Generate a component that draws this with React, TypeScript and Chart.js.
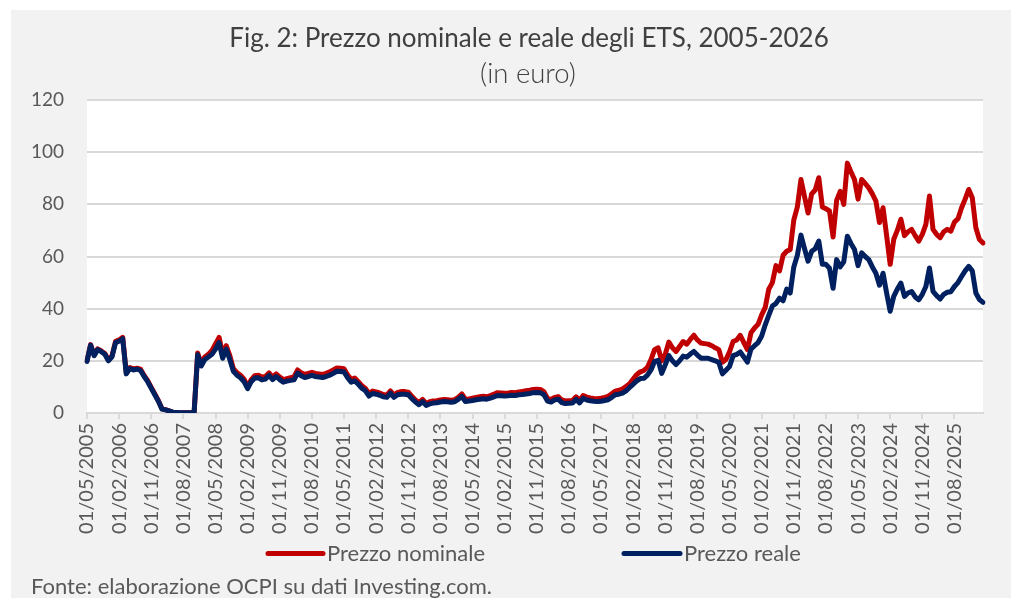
import React, { useEffect, useRef } from "react";
import { Chart, registerables } from "chart.js";

Chart.register(...registerables);

// ---- DATA ----
const START_YEAR = 2005;
const START_MONTH = 5; // May 2005, monthly observations
const N_POINTS = 252;

const TICK_LABELS = [
  "01/05/2005", "01/02/2006", "01/11/2006", "01/08/2007", "01/05/2008", "01/02/2009",
  "01/11/2009", "01/08/2010", "01/05/2011", "01/02/2012", "01/11/2012", "01/08/2013",
  "01/05/2014", "01/02/2015", "01/11/2015", "01/08/2016", "01/05/2017", "01/02/2018",
  "01/11/2018", "01/08/2019", "01/05/2020", "01/02/2021", "01/11/2021", "01/08/2022",
  "01/05/2023", "01/02/2024", "01/11/2024", "01/08/2025",
];

const PREZZO_NOMINALE = [
  20, 26.2, 22.2, 24.6, 23.8, 22.8, 20.3, 21.9, 27.5, 28, 29, 15.3,
  17.4, 16.9, 17.2, 16.8, 14.4, 12.4, 9.8, 7.3, 4.7, 1.6, 1.3, 0.8,
  0.3, 0.2, 0.1, 0.1, 0.05, 0.05, 0.05, 23, 19, 21.5, 22.5, 24,
  26.5, 29, 22.5, 25.8, 22, 17, 15.5, 14.5, 13, 10, 12.8, 14.3,
  14.5, 13.7, 14, 15.4, 13.8, 15, 13.8, 12.8, 13.2, 13.5, 13.8, 16.5,
  15.4, 14.8, 15.2, 15.6, 15.2, 15, 14.8, 15.2, 15.8, 16.5, 17.3, 17.2,
  17, 14.7, 12.9, 13.4, 12, 10.5, 9.4, 7.4, 8.4, 8.1, 7.7, 7.1,
  6.9, 8.5, 6.9, 7.9, 8.2, 8.2, 8, 6.4, 5, 4, 5.2, 3.6,
  4.3, 4.6, 4.7, 5, 5.2, 5.1, 4.9, 5.1, 6, 7.3, 5.2, 5.4,
  5.7, 6, 6.2, 6.4, 6.2, 6.7, 7.2, 7.8, 7.7, 7.6, 7.7, 7.9,
  7.8, 8.1, 8.3, 8.5, 8.7, 9, 9.1, 9, 8.2, 5.6, 5.2, 6,
  6.3, 5, 4.6, 4.7, 4.8, 6.2, 4.9, 6.7, 6.1, 5.8, 5.6, 5.5,
  5.7, 6, 6.4, 7.4, 8.4, 8.7, 9.2, 10.2, 11.2, 13, 14.7, 15.8,
  16.3, 17.5, 20.5, 24.3, 25, 20, 22.5, 27.2, 25, 23.6, 25.5, 27.4,
  26.4, 28.2, 29.8, 28, 26.8, 26.6, 26.4, 25.8, 25, 24.3, 19.5, 20.5,
  23.5, 27.4, 28, 29.8, 27, 24.3, 30.8, 32.6, 34, 37.6, 40.5, 47.5,
  50, 56.5, 54.5, 60.5, 62, 62.7, 74, 79, 89.5, 83, 76.7, 84,
  85.5, 90.2, 79, 78.3, 77.5, 67.5, 81.5, 85, 80, 95.8, 92.5, 89.5,
  82, 89.5, 88, 86.3, 84, 81.2, 73, 78.7, 68, 57, 66.6, 70,
  74.3, 68, 69.5, 70.4, 68, 65.9, 68.5, 72.3, 83.2, 70.4, 68.5, 67.2,
  69.5, 70.4, 69.7, 73.2, 74.5, 78.7, 82, 85.7, 82.5, 71, 66.5, 65.2,
];

const PREZZO_REALE = [
  19.8, 26, 22, 24.3, 23.5, 22.5, 20, 21.5, 27, 27.5, 28.5, 15,
  17, 16.5, 16.8, 16.3, 14, 12, 9.5, 7, 4.5, 1.5, 1.2, 0.8,
  0.3, 0.2, 0.1, 0.1, 0.05, 0.05, 0.05, 22.3, 18, 20.5, 21.5, 22.5,
  24.5, 27, 21, 24.5, 20.5, 16, 14.5, 13.5, 12, 9.3, 12, 13.4,
  13.5, 12.7, 13, 14.4, 12.8, 14, 12.8, 11.8, 12.2, 12.5, 12.7, 15.3,
  14.3, 13.6, 14, 14.4, 14, 13.8, 13.6, 14, 14.5, 15.2, 16, 15.9,
  15.7, 13.5, 11.8, 12.3, 11, 9.5, 8.5, 6.5, 7.5, 7.2, 6.8, 6.2,
  6, 7.6, 6, 7, 7.2, 7.2, 7, 5.5, 4.2, 3.2, 4.4, 2.9,
  3.5, 3.8, 3.9, 4.2, 4.4, 4.3, 4.1, 4.3, 5.2, 6.4, 4.4, 4.6,
  4.8, 5.1, 5.3, 5.5, 5.3, 5.7, 6.2, 6.7, 6.6, 6.5, 6.6, 6.8,
  6.7, 7, 7.1, 7.3, 7.5, 7.8, 7.9, 7.8, 7, 4.6, 4.2, 5,
  5.3, 4, 3.6, 3.7, 3.8, 5.2, 3.9, 5.6, 5, 4.7, 4.5, 4.4,
  4.5, 4.8, 5.1, 6, 7, 7.2, 7.6, 8.5, 9.8, 11, 12.3, 13.2,
  13.3, 14.5, 16.5, 19.8, 20.2, 15.2, 18.5, 22, 20, 18.6, 20, 21.8,
  21.4, 22.6, 23.6, 22.2, 21, 21, 21, 20.5, 20, 19.4, 15, 16.4,
  17.8, 22, 22.5, 23.4, 21.5, 19.5, 24.5, 25.8, 27, 29.5, 33.8, 37.5,
  41, 42, 44, 43, 47.5, 46, 56, 60.5, 68.2, 63, 58.2, 62,
  63, 65.9, 57, 57, 55.5, 47.8, 58.8, 56, 58, 67.8, 65, 62.7,
  56.5, 61.4, 60, 58.8, 56, 53.6, 49, 53.6, 46, 39, 44.7, 47.5,
  49.8, 44.7, 46, 46.6, 44.5, 43.4, 45.5, 48.5, 55.6, 46.6, 45, 43.7,
  45.5, 46.3, 46.5, 48.5, 50, 52.3, 54.5, 56.2, 54.5, 46, 43.5, 42.4,
];

const SERIES_NAMES = ["Prezzo nominale", "Prezzo reale"];
const TITLE = "Fig. 2: Prezzo nominale e reale degli ETS, 2005-2026";
const SUBTITLE = "(in euro)";
const SOURCE = "Fonte: elaborazione OCPI su dati Investing.com.";

function buildMonthLabels(): string[] {
  const out: string[] = [];
  for (let i = 0; i < N_POINTS; i++) {
    const m0 = START_MONTH - 1 + i;
    const y = START_YEAR + Math.floor(m0 / 12);
    const m = (m0 % 12) + 1;
    out.push(`01/${m < 10 ? "0" + m : m}/${y}`);
  }
  return out;
}

const LABELS = buildMonthLabels();
const TICK_SET = new Set(TICK_LABELS);

// ---- STYLE ----
const RED = "#C00000";
const NAVY = "#002060";
const GRID = "#d9d9d9";
const TEXT = "#595959";
const TITLE_COLOR = "#404040";
const FONT = "Lato";

const decorPlugin = {
  id: "decor",
  beforeDraw(chart: any) {
    const { ctx, chartArea } = chart;
    ctx.save();
    ctx.fillStyle = "#ffffff";
    ctx.fillRect(chartArea.left, chartArea.top, chartArea.right - chartArea.left, chartArea.bottom - chartArea.top);
    ctx.restore();
  },
  afterDraw(chart: any) {
    const { ctx } = chart;
    ctx.save();
    ctx.textBaseline = "alphabetic";
    // title
    ctx.fillStyle = TITLE_COLOR;
    ctx.textAlign = "center";
    ctx.font = `400 26px ${FONT}`;
    ctx.fillText(TITLE, 518, 37);
    ctx.font = `300 27.5px ${FONT}`;
    ctx.fillText(SUBTITLE, 517, 73);

    // legend
    const items = [
      { name: SERIES_NAMES[0], color: RED, x0: 257, x1: 312 },
      { name: SERIES_NAMES[1], color: NAVY, x0: 613, x1: 669 },
    ];
    ctx.lineCap = "round";
    ctx.lineWidth = 5;
    for (const it of items) {
      ctx.strokeStyle = it.color;
      ctx.beginPath();
      ctx.moveTo(it.x0, 543.5);
      ctx.lineTo(it.x1, 543.5);
      ctx.stroke();
      ctx.fillStyle = TEXT;
      ctx.textAlign = "left";
      ctx.font = `400 22px ${FONT}`;
      ctx.fillText(it.name, it.x1 + 4, 550.5);
    }

    // source
    ctx.fillStyle = TEXT;
    ctx.textAlign = "left";
    ctx.font = `400 22px ${FONT}`;
    ctx.fillText(SOURCE, 20, 584);
    ctx.restore();
  },
};

export default function App() {
  const canvasRef = useRef<HTMLCanvasElement | null>(null);

  useEffect(() => {
    if (!canvasRef.current) return;
    const chart = new Chart(canvasRef.current, {
      type: "line",
      data: {
        labels: LABELS,
        datasets: [
          {
            label: SERIES_NAMES[0],
            data: PREZZO_NOMINALE,
            borderColor: RED,
            backgroundColor: RED,
            borderWidth: 5,
            pointRadius: 0,
            tension: 0,
            borderJoinStyle: "round",
            borderCapStyle: "round",
            order: 1,
          },
          {
            label: SERIES_NAMES[1],
            data: PREZZO_REALE,
            borderColor: NAVY,
            backgroundColor: NAVY,
            borderWidth: 5,
            pointRadius: 0,
            tension: 0,
            borderJoinStyle: "round",
            borderCapStyle: "round",
            order: 0,
          },
        ],
      },
      options: {
        responsive: false,
        animation: false,
        layout: { padding: { top: 90, right: 28, bottom: 0, left: 0 } },
        plugins: {
          legend: { display: false },
          tooltip: { enabled: false },
          title: { display: false },
        },
        scales: {
          x: {
            type: "category",
            offset: false,
            grid: {
              display: true,
              drawOnChartArea: false,
              drawTicks: true,
              tickLength: 6,
              color: GRID,
              lineWidth: 2,
            },
            border: { display: true, color: GRID, width: 2 },
            ticks: {
              autoSkip: false,
              minRotation: 90,
              maxRotation: 90,
              padding: 4,
              color: TEXT,
              font: { family: FONT, size: 20 },
            },
            afterBuildTicks: (scale: any) => {
              scale.ticks = scale.ticks.filter((t: any) => TICK_SET.has(LABELS[t.value]));
            },
            afterFit: (scale: any) => {
              scale.height = 185;
            },
          },
          y: {
            min: 0,
            max: 120,
            ticks: {
              stepSize: 20,
              padding: 23,
              color: TEXT,
              font: { family: FONT, size: 19 },
            },
            grid: { color: GRID, lineWidth: 2, drawTicks: false },
            border: { display: false },
            afterFit: (scale: any) => {
              scale.width = 76;
            },
          },
        },
      },
      plugins: [decorPlugin],
    });
    return () => chart.destroy();
  }, []);

  return (
    <div
      style={{
        position: "absolute",
        left: 11,
        top: 10,
        width: 1000,
        height: 588,
        background: "#f2f2f2",
        overflow: "hidden",
      }}
    >
      <canvas ref={canvasRef} width={1000} height={588} style={{ display: "block" }} />
    </div>
  );
}
